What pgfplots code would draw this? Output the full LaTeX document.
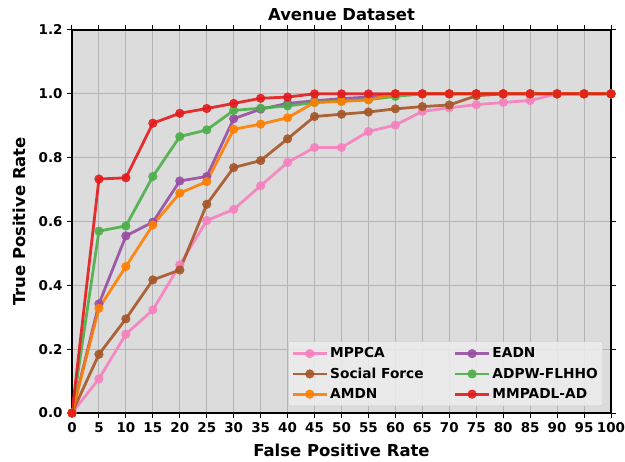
\documentclass[border=0pt]{standalone}
\usepackage{fontspec}
\setmainfont{DejaVu Sans}
\usepackage{pgfplots}
\pgfplotsset{compat=1.18}
\definecolor{cpink}{HTML}{F781BF}
\definecolor{cbrown}{HTML}{A65628}
\definecolor{corange}{HTML}{FF7F00}
\definecolor{cpurple}{HTML}{984EA3}
\definecolor{cgreen}{HTML}{4DAF4A}
\definecolor{cred}{HTML}{E41A1C}
\definecolor{bgc}{HTML}{DCDCDC}
\definecolor{gridc}{HTML}{B4B4B4}
\begin{document}
\begin{tikzpicture}
\begin{axis}[
  scale only axis,
  width=539bp, height=383bp,
  xmin=0, xmax=100, ymin=0, ymax=1.2,
  xtick={0,5,...,100},
  ytick={0,0.2,...,1.2},
  yticklabel style={xshift=-1bp, /pgf/number format/.cd, fixed, fixed zerofill, precision=1},
  /pgf/number format/assume math mode=true,
  tick label style={font=\fontsize{13.5}{15}\selectfont\bfseries},
  xticklabel style={yshift=-1bp},
  tick align=outside,
  major tick length=5bp,
  tick style={black, line width=1bp},
  axis line style={black, line width=1.5bp},
  axis background/.style={fill=bgc},
  grid=major,
  grid style={gridc, line width=1bp},
  title={\fontsize{16.5}{18}\selectfont\bfseries Avenue Dataset},
  every axis title shift=0pt,
  title style={at={(axis description cs:0.5,1.0405)}, anchor=center},
  xlabel={\fontsize{16.5}{18}\selectfont\bfseries False Positive Rate},
  ylabel={\fontsize{16.5}{18}\selectfont\bfseries True Positive Rate},
  xlabel style={at={(axis description cs:0.5,-0.0966)}, anchor=center},
  ylabel style={at={(axis description cs:-0.0984,0.5)}, anchor=center},
  every axis plot/.append style={line width=2.8bp, mark=*, mark size=4.3bp, opacity=0.9},
  legend columns=2,
  legend cell align=left,
  legend style={at={(0.985,0.018)}, anchor=south east, fill=white!93!black, fill opacity=0.85, text opacity=1, draw=white!80!black, rounded corners=2bp,
    font=\fontsize{13.8}{15}\selectfont\bfseries, row sep=4.5bp,
    /tikz/every even column/.append style={column sep=28bp},
    inner xsep=3bp, inner ysep=4bp},
  legend image code/.code={
    \draw[#1, mark repeat=2, mark phase=2] plot coordinates {(0bp,0bp) (17bp,0bp) (34bp,0bp)};
  },
]
\addplot[color=cpink, mark options={fill=cpink, line width=0.5bp}] coordinates {
(0,0) (5,0.107) (10,0.247) (15,0.323) (20,0.464) (25,0.603) (30,0.638) (35,0.712) (40,0.785) (45,0.832) (50,0.832) (55,0.882) (60,0.902) (65,0.945) (70,0.956) (75,0.966) (80,0.973) (85,0.979) (90,1.0) (95,1.0) (100,1.0)};
\addlegendentry{MPPCA}
\addplot[color=cpurple, mark options={fill=cpurple, line width=0.5bp}] coordinates {
(0,0) (5,0.342) (10,0.555) (15,0.598) (20,0.727) (25,0.741) (30,0.922) (35,0.952) (40,0.97) (45,0.978) (50,0.985) (55,0.99) (60,1.0) (65,1.0) (70,1.0) (75,1.0) (80,1.0) (85,1.0) (90,1.0) (95,1.0) (100,1.0)};
\addlegendentry{EADN}
\addplot[color=cbrown, mark options={fill=cbrown, line width=0.5bp}] coordinates {
(0,0) (5,0.184) (10,0.295) (15,0.417) (20,0.448) (25,0.654) (30,0.769) (35,0.791) (40,0.859) (45,0.929) (50,0.936) (55,0.943) (60,0.953) (65,0.96) (70,0.965) (75,0.994) (80,1.0) (85,1.0) (90,1.0) (95,1.0) (100,1.0)};
\addlegendentry{Social Force}
\addplot[color=cgreen, mark options={fill=cgreen, line width=0.5bp}] coordinates {
(0,0) (5,0.57) (10,0.586) (15,0.741) (20,0.866) (25,0.887) (30,0.948) (35,0.955) (40,0.962) (45,0.973) (50,0.978) (55,0.982) (60,0.992) (65,1.0) (70,1.0) (75,1.0) (80,1.0) (85,1.0) (90,1.0) (95,1.0) (100,1.0)};
\addlegendentry{ADPW-FLHHO}
\addplot[color=corange, mark options={fill=corange, line width=0.5bp}] coordinates {
(0,0) (5,0.328) (10,0.459) (15,0.589) (20,0.689) (25,0.725) (30,0.889) (35,0.905) (40,0.925) (45,0.973) (50,0.976) (55,0.981) (60,1.0) (65,1.0) (70,1.0) (75,1.0) (80,1.0) (85,1.0) (90,1.0) (95,1.0) (100,1.0)};
\addlegendentry{AMDN}
\addplot[color=cred, mark options={fill=cred, line width=0.5bp}] coordinates {
(0,0) (5,0.733) (10,0.737) (15,0.908) (20,0.939) (25,0.954) (30,0.97) (35,0.986) (40,0.99) (45,1.0) (50,1.0) (55,1.0) (60,1.0) (65,1.0) (70,1.0) (75,1.0) (80,1.0) (85,1.0) (90,1.0) (95,1.0) (100,1.0)};
\addlegendentry{MMPADL-AD}
\end{axis}
\path (current axis.south west) ++(-72bp,-49bp) coordinate (bbA);
\path (current axis.north east) ++(14bp,30bp) coordinate (bbB);
\pgfresetboundingbox
\path[use as bounding box] (bbA) rectangle (bbB);
\end{tikzpicture}
\end{document}
